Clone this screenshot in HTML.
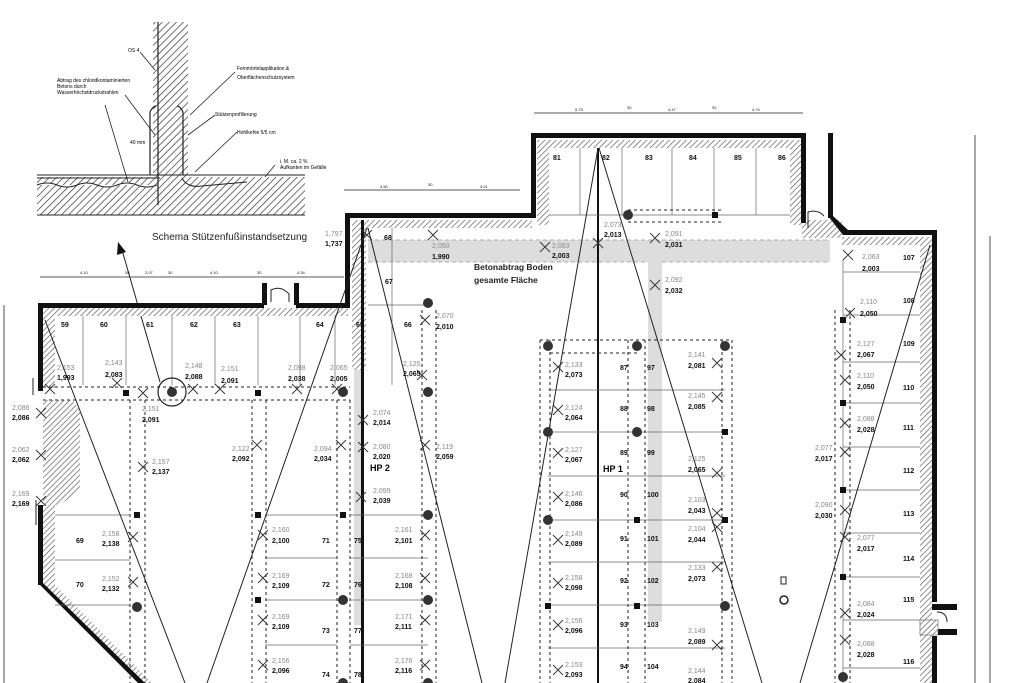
<!DOCTYPE html>
<html><head><meta charset="utf-8"><style>
html,body{margin:0;padding:0;background:#fff;}
svg{display:block;}
text{font-family:"Liberation Sans",sans-serif;}
.s{font-size:7px;fill:#888;}
.b{font-size:7px;fill:#111;font-weight:bold;}
.n{font-size:7px;fill:#111;}
</style></head><body>
<svg width="1024" height="683" viewBox="0 0 1024 683" xmlns="http://www.w3.org/2000/svg">
<defs>
<pattern id="h" width="4" height="4" patternUnits="userSpaceOnUse" patternTransform="rotate(45)">
<rect width="4" height="4" fill="#fff"/><line x1="0" y1="0" x2="0" y2="4" stroke="#555" stroke-width="1.3"/></pattern>
<pattern id="h2" width="5" height="5" patternUnits="userSpaceOnUse" patternTransform="rotate(45)">
<rect width="5" height="5" fill="#fff"/><line x1="0" y1="0" x2="0" y2="5" stroke="#333" stroke-width="1.4"/></pattern>
</defs>
<rect width="1024" height="683" fill="#fff"/>

<!-- detail drawing -->
<rect x="37" y="177" width="268" height="38" fill="url(#h2)"/>
<rect x="153" y="22" width="35" height="160" fill="url(#h2)"/>
<line x1="158" y1="22" x2="158" y2="205" stroke="#222" stroke-width="1.2"/>
<line x1="37" y1="175" x2="305" y2="175" stroke="#222" stroke-width="1"/>
<line x1="37" y1="178" x2="160" y2="178" stroke="#222" stroke-width="1"/>
<path d="M37 185 q10 -4 20 0 t20 0 t20 0 t20 0 t20 0 t20 0" stroke="#222" fill="#fff" stroke-width="1"/>
<line x1="37" y1="215" x2="305" y2="215" stroke="#222" stroke-width="1"/>
<path d="M150 175 V112 q3 -6 6 -6 M183 175 V112 q-3 -6 -6 -6" stroke="#222" fill="none" stroke-width="1.2"/>
<path d="M182 178 q5 10 20 8 l45 -4" stroke="#222" fill="none"/>
<g stroke="#222" stroke-width="0.8" fill="none">
<line x1="140" y1="52" x2="155" y2="70"/><line x1="125" y1="95" x2="155" y2="135"/>
<line x1="105" y1="105" x2="128" y2="182"/><line x1="235" y1="72" x2="190" y2="115"/>
<line x1="215" y1="115" x2="188" y2="135"/><line x1="237" y1="132" x2="195" y2="172"/>
<line x1="275" y1="165" x2="265" y2="177"/></g>
<text x="128" y="52" style="font-size:5px">OS 4</text>
<text x="57" y="82" style="font-size:5px">Abtrag des chloridkontaminierten</text>
<text x="57" y="88" style="font-size:5px">Betons durch</text>
<text x="57" y="94" style="font-size:5px">Wasserhöchstdruckstrahlen</text>
<text x="237" y="70" style="font-size:5px">Feinmörtelapplikation &amp;</text>
<text x="237" y="79" style="font-size:5px">Oberflächenschutzsystem</text>
<text x="215" y="116" style="font-size:5px">Stützenprofilierung</text>
<text x="237" y="134" style="font-size:5px">Hohlkehle 5/5 cm</text>
<text x="130" y="144" style="font-size:5px">40 mm</text>
<text x="280" y="163" style="font-size:5px">i. M. ca. 2 %</text>
<text x="280" y="169" style="font-size:5px">Aufkanten im Gefälle</text>
<text x="152" y="240" style="font-size:10px;fill:#222">Schema Stützenfußinstandsetzung</text>
<line x1="160" y1="382" x2="122" y2="250" stroke="#222" stroke-width="1"/>
<polygon points="118,242 126,252 117,255" fill="#111"/>

<!-- dimension lines -->
<g stroke="#222" stroke-width="0.8">
<line x1="40" y1="277" x2="344" y2="277"/><line x1="344" y1="190" x2="520" y2="190"/>
<line x1="534" y1="113" x2="803" y2="113"/>
<line x1="4" y1="305" x2="4" y2="683"/>
<line x1="975" y1="135" x2="975" y2="683"/><line x1="990" y1="236" x2="990" y2="683"/>
</g>
<g class="n" style="font-size:4px">
<text x="80" y="274">4.10</text><text x="125" y="274">30</text><text x="145" y="274">2.07</text><text x="168" y="274">30</text><text x="210" y="274">4.10</text><text x="257" y="274">30</text><text x="297" y="274">4.34</text>
<text x="380" y="188">4.50</text><text x="428" y="186">30</text><text x="480" y="188">3.01</text>
<text x="575" y="111">5.73</text><text x="627" y="109">30</text><text x="668" y="111">4.47</text><text x="712" y="109">30</text><text x="752" y="111">4.74</text>
</g>

<!-- gray floor removal band -->
<rect x="368" y="240" width="462" height="22" fill="#ddd"/>
<rect x="648" y="262" width="14" height="360" fill="#ddd"/>
<rect x="354" y="370" width="8" height="255" fill="#ddd"/>
<g stroke="#999" stroke-width="0.8" stroke-dasharray="4 3" fill="none">
<line x1="368" y1="240" x2="830" y2="240"/><line x1="368" y1="262" x2="648" y2="262"/><line x1="662" y1="262" x2="830" y2="262"/>
</g>

<!-- hatched inner bands -->
<g fill="url(#h)">
<rect x="43" y="308" width="305" height="8"/>
<rect x="43" y="308" width="12" height="80"/>
<path d="M43 400 H72 L80 410 V490 L60 505 H43 Z"/>
<path d="M43 505 V585 L140 683 H152 L55 585 V505 Z"/>
<rect x="352" y="220" width="14" height="150"/>
<rect x="352" y="220" width="180" height="8"/>
<rect x="537" y="140" width="263" height="8"/>
<rect x="537" y="140" width="12" height="85"/>
<rect x="790" y="140" width="12" height="85"/>
<rect x="802" y="220" width="40" height="18"/>
<rect x="842" y="237" width="90" height="8"/>
<rect x="920" y="237" width="12" height="446"/>
</g>

<!-- walls -->
<g fill="#111">
<rect x="38" y="303" width="226" height="5"/><rect x="296" y="303" width="54" height="5"/>
<rect x="262" y="283" width="5" height="22"/><rect x="294" y="283" width="5" height="22"/>
<rect x="345" y="213" width="5" height="95"/>
<rect x="345" y="213" width="190" height="5"/>
<rect x="531" y="133" width="5" height="85"/>
<rect x="531" y="133" width="274" height="5"/>
<rect x="801" y="133" width="5" height="90"/>
<rect x="828" y="133" width="5" height="85"/>
<polygon points="828,216 833,216 848,230 848,235 843,235"/>
<rect x="843" y="230" width="94" height="5"/>
<rect x="932" y="230" width="5" height="372"/><rect x="932" y="636" width="5" height="47"/>
<rect x="932" y="604" width="25" height="6"/><rect x="932" y="629" width="25" height="6"/>
<rect x="38" y="303" width="5" height="88"/><rect x="38" y="505" width="5" height="80"/>
<polygon points="38,583 43,583 145,683 138,683"/>
<rect x="361" y="220" width="3" height="463"/>
<rect x="597" y="148" width="2" height="535"/>
</g>
<path d="M271 302 V290 q10 -5 18 4 V302" stroke="#222" fill="none"/>
<path d="M808 228 V212 q10 -3 16 4" stroke="#222" fill="none"/>
<path d="M937 612 q10 0 10 10" stroke="#222" fill="none"/>
<rect x="920" y="620" width="18" height="15" fill="url(#h)" stroke="#555" stroke-width="0.6"/>
<line x1="33" y1="378" x2="33" y2="395" stroke="#222"/><line x1="36" y1="500" x2="36" y2="525" stroke="#222"/>

<!-- stall lines -->
<g stroke="#666" stroke-width="0.7">
<line x1="83" y1="316" x2="83" y2="385"/><line x1="126" y1="316" x2="126" y2="385"/><line x1="172" y1="316" x2="172" y2="385"/>
<line x1="215" y1="316" x2="215" y2="385"/><line x1="258" y1="316" x2="258" y2="385"/><line x1="300" y1="316" x2="300" y2="385"/>
<line x1="335" y1="316" x2="335" y2="385"/><line x1="392" y1="228" x2="392" y2="385"/>
<line x1="55" y1="515" x2="130" y2="515"/><line x1="55" y1="560" x2="130" y2="560"/><line x1="55" y1="605" x2="130" y2="605"/>
<line x1="265" y1="515" x2="337" y2="515"/><line x1="265" y1="558" x2="337" y2="558"/><line x1="265" y1="600" x2="337" y2="600"/><line x1="265" y1="645" x2="337" y2="645"/>
<line x1="350" y1="515" x2="428" y2="515"/><line x1="350" y1="558" x2="428" y2="558"/><line x1="350" y1="600" x2="428" y2="600"/><line x1="350" y1="645" x2="428" y2="645"/>
<line x1="368" y1="305" x2="428" y2="305"/>
<line x1="580" y1="148" x2="580" y2="215"/><line x1="622" y1="148" x2="622" y2="215"/><line x1="672" y1="148" x2="672" y2="215"/><line x1="714" y1="148" x2="714" y2="215"/><line x1="756" y1="148" x2="756" y2="215"/>
<line x1="549" y1="215" x2="790" y2="215"/>
<line x1="548" y1="390" x2="725" y2="390"/><line x1="548" y1="432" x2="725" y2="432"/><line x1="548" y1="476" x2="725" y2="476"/>
<line x1="548" y1="520" x2="725" y2="520"/><line x1="548" y1="562" x2="725" y2="562"/><line x1="548" y1="605" x2="725" y2="605"/><line x1="548" y1="648" x2="725" y2="648"/>
<line x1="843" y1="272" x2="920" y2="272"/><line x1="843" y1="315" x2="920" y2="315"/><line x1="843" y1="362" x2="920" y2="362"/>
<line x1="843" y1="403" x2="920" y2="403"/><line x1="843" y1="447" x2="920" y2="447"/><line x1="843" y1="490" x2="920" y2="490"/>
<line x1="843" y1="533" x2="920" y2="533"/><line x1="843" y1="577" x2="920" y2="577"/><line x1="843" y1="620" x2="920" y2="620"/><line x1="843" y1="668" x2="920" y2="668"/>
<line x1="843" y1="260" x2="843" y2="683"/>
</g>

<!-- dashed / dotted beams -->
<g stroke="#222" stroke-width="1" stroke-dasharray="3 3" fill="none">
<line x1="43" y1="387" x2="350" y2="387"/><line x1="43" y1="400" x2="350" y2="400"/>
<line x1="130" y1="400" x2="130" y2="683"/><line x1="145" y1="400" x2="145" y2="683"/>
<line x1="252" y1="400" x2="252" y2="683"/><line x1="266" y1="400" x2="266" y2="683"/>
<line x1="337" y1="400" x2="337" y2="683"/><line x1="350" y1="400" x2="350" y2="683"/>
<line x1="422" y1="310" x2="422" y2="683"/><line x1="436" y1="310" x2="436" y2="683"/>
<line x1="540" y1="340" x2="540" y2="683"/><line x1="550" y1="340" x2="550" y2="683"/>
<line x1="628" y1="340" x2="628" y2="683"/><line x1="645" y1="340" x2="645" y2="683"/>
<line x1="722" y1="340" x2="722" y2="683"/><line x1="732" y1="340" x2="732" y2="683"/>
<line x1="540" y1="340" x2="732" y2="340"/><line x1="550" y1="353" x2="640" y2="353"/>
<line x1="835" y1="310" x2="835" y2="683"/><line x1="850" y1="310" x2="850" y2="683"/>
<line x1="628" y1="210" x2="722" y2="210"/><line x1="628" y1="222" x2="722" y2="222"/>
</g>

<!-- long diagonal lines -->
<g stroke="#222" stroke-width="1">
<line x1="45" y1="320" x2="185" y2="683"/>
<line x1="367" y1="228" x2="207" y2="683"/>
<line x1="368" y1="228" x2="482" y2="683"/>
<line x1="598" y1="148" x2="505" y2="683"/>
<line x1="599" y1="148" x2="762" y2="683"/>
<line x1="930" y1="245" x2="800" y2="683"/>
</g>

<!-- columns -->
<g fill="#333">
<circle cx="172" cy="392" r="5"/><circle cx="343" cy="392" r="5"/><circle cx="428" cy="392" r="5"/><circle cx="428" cy="303" r="5"/>
<circle cx="428" cy="515" r="5"/><circle cx="428" cy="600" r="5"/><circle cx="343" cy="600" r="5"/><circle cx="137" cy="607" r="5"/>
<circle cx="548" cy="346" r="5"/><circle cx="637" cy="346" r="5"/><circle cx="725" cy="346" r="5"/>
<circle cx="548" cy="432" r="5"/><circle cx="637" cy="432" r="5"/><circle cx="548" cy="520" r="5"/><circle cx="725" cy="606" r="5"/>
<circle cx="628" cy="215" r="5"/><circle cx="843" cy="677" r="5"/><circle cx="428" cy="683" r="5"/><circle cx="343" cy="683" r="5"/>
</g>
<circle cx="172" cy="392" r="14" fill="none" stroke="#222" stroke-width="1.2"/>
<g fill="#111">
<rect x="123" y="390" width="6" height="6"/><rect x="255" y="390" width="6" height="6"/><rect x="134" y="512" width="6" height="6"/>
<rect x="255" y="512" width="6" height="6"/><rect x="340" y="512" width="6" height="6"/><rect x="255" y="597" width="6" height="6"/>
<rect x="712" y="212" width="6" height="6"/><rect x="634" y="517" width="6" height="6"/><rect x="545" y="603" width="6" height="6"/>
<rect x="634" y="603" width="6" height="6"/><rect x="722" y="429" width="6" height="6"/><rect x="722" y="517" width="6" height="6"/>
<rect x="840" y="317" width="6" height="6"/><rect x="840" y="400" width="6" height="6"/><rect x="840" y="487" width="6" height="6"/><rect x="840" y="574" width="6" height="6"/>
</g>
<rect x="781" y="577" width="5" height="7" fill="none" stroke="#222"/>
<circle cx="784" cy="600" r="4" fill="none" stroke="#222" stroke-width="1.5"/>

<!-- X marks -->
<g stroke="#333" stroke-width="0.9">
<path d="M45 384l10 10m0-10l-10 10"/><path d="M112 378l10 10m0-10l-10 10"/><path d="M188 384l10 10m0-10l-10 10"/><path d="M215 384l10 10m0-10l-10 10"/>
<path d="M292 384l10 10m0-10l-10 10"/><path d="M332 384l10 10m0-10l-10 10"/><path d="M138 388l10 10m0-10l-10 10"/>
<path d="M36 408l10 10m0-10l-10 10"/><path d="M36 450l10 10m0-10l-10 10"/><path d="M36 496l10 10m0-10l-10 10"/>
<path d="M138 462l10 10m0-10l-10 10"/><path d="M252 440l10 10m0-10l-10 10"/><path d="M336 440l10 10m0-10l-10 10"/>
<path d="M358 415l10 10m0-10l-10 10"/><path d="M358 442l10 10m0-10l-10 10"/><path d="M356 492l10 10m0-10l-10 10"/>
<path d="M420 440l10 10m0-10l-10 10"/><path d="M128 532l10 10m0-10l-10 10"/><path d="M128 577l10 10m0-10l-10 10"/>
<path d="M258 530l10 10m0-10l-10 10"/><path d="M258 573l10 10m0-10l-10 10"/><path d="M258 615l10 10m0-10l-10 10"/><path d="M258 660l10 10m0-10l-10 10"/>
<path d="M420 530l10 10m0-10l-10 10"/><path d="M420 573l10 10m0-10l-10 10"/><path d="M420 615l10 10m0-10l-10 10"/><path d="M420 660l10 10m0-10l-10 10"/>
<path d="M362 230l10 10m0-10l-10 10"/><path d="M428 230l10 10m0-10l-10 10"/><path d="M420 315l10 10m0-10l-10 10"/><path d="M417 370l10 10m0-10l-10 10"/>
<path d="M540 242l10 10m0-10l-10 10"/><path d="M593 238l10 10m0-10l-10 10"/><path d="M650 233l10 10m0-10l-10 10"/><path d="M650 280l10 10m0-10l-10 10"/>
<path d="M553 362l10 10m0-10l-10 10"/><path d="M553 405l10 10m0-10l-10 10"/><path d="M553 448l10 10m0-10l-10 10"/><path d="M553 492l10 10m0-10l-10 10"/>
<path d="M553 535l10 10m0-10l-10 10"/><path d="M553 578l10 10m0-10l-10 10"/><path d="M553 620l10 10m0-10l-10 10"/><path d="M553 665l10 10m0-10l-10 10"/>
<path d="M712 358l10 10m0-10l-10 10"/><path d="M712 392l10 10m0-10l-10 10"/><path d="M712 468l10 10m0-10l-10 10"/><path d="M712 508l10 10m0-10l-10 10"/>
<path d="M712 522l10 10m0-10l-10 10"/><path d="M712 562l10 10m0-10l-10 10"/><path d="M712 640l10 10m0-10l-10 10"/>
<path d="M843 250l10 10m0-10l-10 10"/><path d="M845 308l10 10m0-10l-10 10"/><path d="M836 350l10 10m0-10l-10 10"/><path d="M840 375l10 10m0-10l-10 10"/>
<path d="M840 418l10 10m0-10l-10 10"/><path d="M840 447l10 10m0-10l-10 10"/><path d="M840 505l10 10m0-10l-10 10"/><path d="M840 532l10 10m0-10l-10 10"/>
<path d="M840 608l10 10m0-10l-10 10"/><path d="M840 635l10 10m0-10l-10 10"/>
</g>

<!-- elevation numbers -->
<g>
<text class="s" x="57" y="370">2,153</text><text class="b" x="57" y="380">1,993</text>
<text class="s" x="105" y="365">2,143</text><text class="b" x="105" y="377">2,083</text>
<text class="s" x="185" y="368">2,148</text><text class="b" x="185" y="379">2,088</text>
<text class="s" x="221" y="371">2,151</text><text class="b" x="221" y="383">2,091</text>
<text class="s" x="288" y="370">2,098</text><text class="b" x="288" y="381">2,038</text>
<text class="s" x="330" y="370">2,065</text><text class="b" x="330" y="381">2,005</text>
<text class="s" x="142" y="411">2,151</text><text class="b" x="142" y="422">2,091</text>
<text class="s" x="12" y="410">2,086</text><text class="b" x="12" y="420">2,086</text>
<text class="s" x="12" y="452">2,062</text><text class="b" x="12" y="462">2,062</text>
<text class="s" x="12" y="496">2,169</text><text class="b" x="12" y="506">2,169</text>
<text class="s" x="152" y="464">2,157</text><text class="b" x="152" y="474">2,137</text>
<text class="s" x="232" y="451">2,122</text><text class="b" x="232" y="461">2,092</text>
<text class="s" x="314" y="451">2,094</text><text class="b" x="314" y="461">2,034</text>
<text class="s" x="373" y="415">2,074</text><text class="b" x="373" y="425">2,014</text>
<text class="s" x="373" y="449">2,080</text><text class="b" x="373" y="459">2,020</text>
<text class="s" x="373" y="493">2,099</text><text class="b" x="373" y="503">2,039</text>
<text class="s" x="436" y="449">2,119</text><text class="b" x="436" y="459">2,059</text>
<text class="s" x="102" y="536">2,158</text><text class="b" x="102" y="546">2,138</text>
<text class="s" x="102" y="581">2,152</text><text class="b" x="102" y="591">2,132</text>
<text class="s" x="272" y="532">2,160</text><text class="b" x="272" y="543">2,100</text>
<text class="s" x="272" y="578">2,169</text><text class="b" x="272" y="588">2,109</text>
<text class="s" x="272" y="619">2,169</text><text class="b" x="272" y="629">2,109</text>
<text class="s" x="272" y="663">2,156</text><text class="b" x="272" y="673">2,096</text>
<text class="s" x="395" y="532">2,161</text><text class="b" x="395" y="543">2,101</text>
<text class="s" x="395" y="578">2,168</text><text class="b" x="395" y="588">2,108</text>
<text class="s" x="395" y="619">2,171</text><text class="b" x="395" y="629">2,111</text>
<text class="s" x="395" y="663">2,176</text><text class="b" x="395" y="673">2,116</text>
<text class="s" x="325" y="236">1,797</text><text class="b" x="325" y="246">1,737</text>
<text class="s" x="432" y="248">2,050</text><text class="b" x="432" y="259">1,990</text>
<text class="s" x="436" y="318">2,070</text><text class="b" x="436" y="329">2,010</text>
<text class="s" x="403" y="366">2,125</text><text class="b" x="403" y="376">2,065</text>
<text class="s" x="552" y="248">2,063</text><text class="b" x="552" y="258">2,003</text>
<text class="s" x="604" y="227">2,073</text><text class="b" x="604" y="237">2,013</text>
<text class="s" x="665" y="236">2,091</text><text class="b" x="665" y="247">2,031</text>
<text class="s" x="665" y="282">2,092</text><text class="b" x="665" y="293">2,032</text>
<text class="s" x="565" y="367">2,133</text><text class="b" x="565" y="377">2,073</text>
<text class="s" x="565" y="410">2,124</text><text class="b" x="565" y="420">2,064</text>
<text class="s" x="565" y="452">2,127</text><text class="b" x="565" y="462">2,067</text>
<text class="s" x="565" y="496">2,146</text><text class="b" x="565" y="506">2,086</text>
<text class="s" x="565" y="536">2,149</text><text class="b" x="565" y="546">2,089</text>
<text class="s" x="565" y="580">2,158</text><text class="b" x="565" y="590">2,098</text>
<text class="s" x="565" y="623">2,156</text><text class="b" x="565" y="633">2,096</text>
<text class="s" x="565" y="667">2,153</text><text class="b" x="565" y="677">2,093</text>
<text class="s" x="688" y="357">2,141</text><text class="b" x="688" y="368">2,081</text>
<text class="s" x="688" y="398">2,145</text><text class="b" x="688" y="409">2,085</text>
<text class="s" x="688" y="461">2,125</text><text class="b" x="688" y="472">2,065</text>
<text class="s" x="688" y="502">2,103</text><text class="b" x="688" y="513">2,043</text>
<text class="s" x="688" y="531">2,104</text><text class="b" x="688" y="542">2,044</text>
<text class="s" x="688" y="570">2,133</text><text class="b" x="688" y="581">2,073</text>
<text class="s" x="688" y="633">2,149</text><text class="b" x="688" y="644">2,089</text>
<text class="s" x="688" y="673">2,144</text><text class="b" x="688" y="683">2,084</text>
<text class="s" x="862" y="259">2,063</text><text class="b" x="862" y="271">2,003</text>
<text class="s" x="860" y="304">2,110</text><text class="b" x="860" y="316">2,050</text>
<text class="s" x="857" y="346">2,127</text><text class="b" x="857" y="357">2,067</text>
<text class="s" x="857" y="378">2,110</text><text class="b" x="857" y="389">2,050</text>
<text class="s" x="857" y="421">2,088</text><text class="b" x="857" y="432">2,028</text>
<text class="s" x="815" y="450">2,077</text><text class="b" x="815" y="461">2,017</text>
<text class="s" x="815" y="507">2,090</text><text class="b" x="815" y="518">2,030</text>
<text class="s" x="857" y="540">2,077</text><text class="b" x="857" y="551">2,017</text>
<text class="s" x="857" y="606">2,084</text><text class="b" x="857" y="617">2,024</text>
<text class="s" x="857" y="646">2,088</text><text class="b" x="857" y="657">2,028</text>
</g>

<!-- stall numbers -->
<g class="b" style="font-size:7px">
<text x="61" y="327">59</text><text x="100" y="327">60</text><text x="146" y="327">61</text><text x="190" y="327">62</text><text x="233" y="327">63</text><text x="316" y="327">64</text><text x="356" y="327">65</text><text x="404" y="327">66</text>
<text x="385" y="284">67</text><text x="384" y="240">68</text>
<text x="76" y="543">69</text><text x="76" y="587">70</text>
<text x="322" y="543">71</text><text x="322" y="587">72</text><text x="322" y="633">73</text><text x="322" y="677">74</text>
<text x="354" y="543">75</text><text x="354" y="587">76</text><text x="354" y="633">77</text><text x="354" y="677">78</text>
<text x="553" y="160">81</text><text x="602" y="160">82</text><text x="645" y="160">83</text><text x="689" y="160">84</text><text x="734" y="160">85</text><text x="778" y="160">86</text>
<text x="620" y="370">87</text><text x="620" y="411">88</text><text x="620" y="455">89</text><text x="620" y="497">90</text><text x="620" y="541">91</text><text x="620" y="583">92</text><text x="620" y="627">93</text><text x="620" y="669">94</text>
<text x="647" y="370">97</text><text x="647" y="411">98</text><text x="647" y="455">99</text><text x="647" y="497">100</text><text x="647" y="541">101</text><text x="647" y="583">102</text><text x="647" y="627">103</text><text x="647" y="669">104</text>
<text x="903" y="260">107</text><text x="903" y="303">108</text><text x="903" y="346">109</text><text x="903" y="390">110</text><text x="903" y="430">111</text><text x="903" y="473">112</text><text x="903" y="516">113</text><text x="903" y="561">114</text><text x="903" y="602">115</text><text x="903" y="664">116</text>
</g>
<text x="370" y="471" style="font-size:9px;font-weight:bold">HP 2</text>
<text x="603" y="472" style="font-size:9px;font-weight:bold">HP 1</text>
<text x="474" y="270" style="font-size:8.5px;font-weight:bold;fill:#222">Betonabtrag Boden</text>
<text x="474" y="283" style="font-size:8.5px;font-weight:bold;fill:#222">gesamte Fläche</text>
</svg>
</body></html>
